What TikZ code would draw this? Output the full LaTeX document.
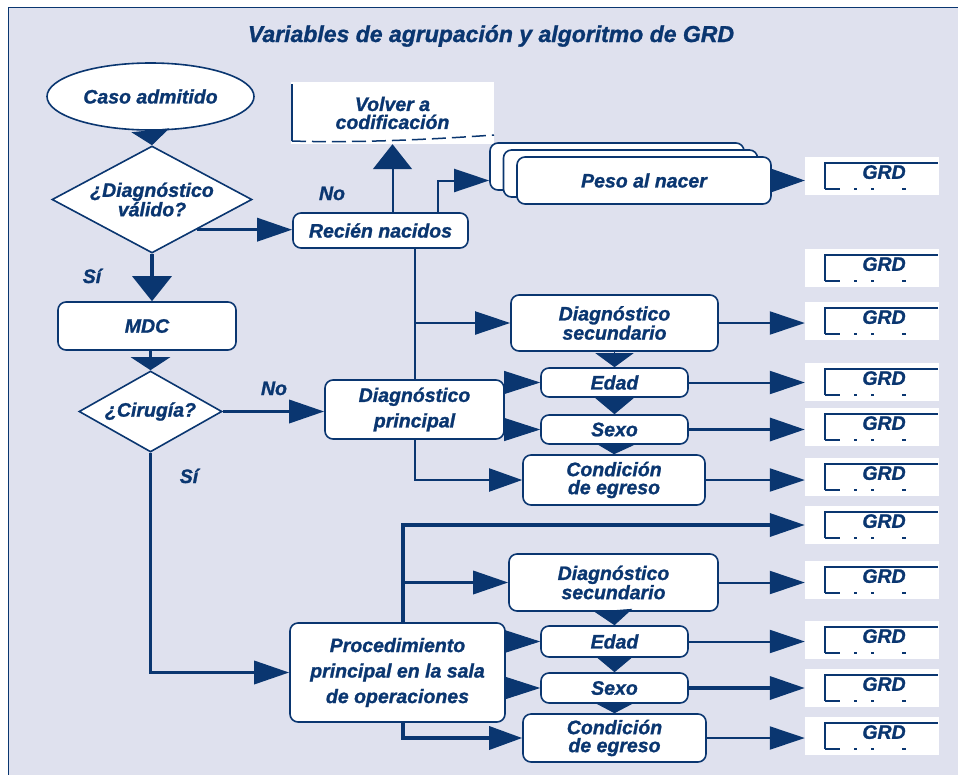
\documentclass[tikz,border=0pt]{standalone}
\usepackage{fontspec}
\setmainfont{Liberation Sans}[BoldItalicFeatures={FakeBold=1.2}]
\usetikzlibrary{shapes.geometric,shadows,arrows.meta}

\definecolor{grdblue}{RGB}{10,54,112}
\definecolor{panelbg}{RGB}{223,225,238}

\newcommand\boxfont{\fontsize{19.5}{18}\selectfont\bfseries\itshape}
\newcommand\widefont{\fontsize{19.5}{25.5}\selectfont\bfseries\itshape}
\newcommand\titlefont{\fontsize{23}{27}\selectfont\bfseries\itshape}

\tikzset{
  flowbox/.style={draw=grdblue, fill=white, line width=1.6pt, rounded corners=8pt,
    align=center, text=grdblue, font=\boxfont},
  terminal/.style={ellipse, draw=grdblue, fill=white, line width=1.6pt, inner sep=0pt,
    text=grdblue, font=\boxfont},
  decision/.style={diamond, aspect=1.8, draw=grdblue, fill=white, line width=1.6pt,
    inner sep=0pt, align=center, text=grdblue, font=\boxfont},
  stackbox/.style={double copy shadow={shadow xshift=-13.5pt, shadow yshift=7pt,
    draw=grdblue, fill=white, line width=1.6pt}},
  grdbox/.style={fill=white, minimum width=134pt, minimum height=38pt, inner sep=0pt,
    text depth=8pt, text=grdblue, font=\boxfont,
    path picture={
      \draw[grdblue, line width=1.5pt]
      ([shift={(20pt,6pt)}]path picture bounding box.south west)
      |- ([shift={(-1pt,-6pt)}]path picture bounding box.north east);
      \draw[grdblue, line width=1.5pt,
        dash pattern=on 15pt off 14pt on 3pt off 14pt on 3pt off 28pt on 4pt off 30pt]
      ([shift={(20pt,6pt)}]path picture bounding box.south west)
      -- ([shift={(-8pt,6pt)}]path picture bounding box.south east);
    }},
  returnbox/.style={fill=white, minimum width=203pt, minimum height=62pt, inner sep=0pt,
    align=center, text=grdblue, font=\boxfont,
    path picture={
      \draw[grdblue, line width=1.5pt]
      ([shift={(1pt,-2pt)}]path picture bounding box.north west)
      -- ([shift={(1pt,3pt)}]path picture bounding box.south west);
      \draw[grdblue, line width=1.5pt, dash pattern=on 14pt off 6pt]
      ([shift={(1pt,3pt)}]path picture bounding box.south west)
      .. controls ([shift={(60pt,1pt)}]path picture bounding box.south west)
      and ([shift={(-70pt,4pt)}]path picture bounding box.south east)
      .. ([yshift=9pt]path picture bounding box.south east);
    }},
  lbl/.style={text=grdblue, font=\boxfont, anchor=base},
  thinline/.style={draw=grdblue, line width=2pt},
  thickline/.style={draw=grdblue, line width=3.5pt},
  htip/.style={-{Triangle[length=#1,width=23pt]}, draw=grdblue},
  htip/.default=35pt,
  vtip/.style={-{Triangle[length=#1,width=39pt]}, draw=grdblue},
  dtip/.style={-{Triangle[length=#1,width=38pt]}, draw=grdblue, line width=1pt}
}

\begin{document}
\begin{tikzpicture}[x=1pt, y=-1pt]
  \useasboundingbox (0,0) rectangle (958,774);
  \clip (0,0) rectangle (958,774);

  \draw
  [draw=grdblue, line width=1.5pt, fill=panelbg]
  (8.5,7.5) rectangle (990,800);

  \node
  [lbl, font=\titlefont]
  (title) at (491,42) {Variables de agrupación y algoritmo de GRD};

  \node
  [terminal, minimum width=207pt, minimum height=67pt]
  (ca) at (150.5,96.5) {Caso admitido};

  \node
  [decision, minimum width=200pt, minimum height=107pt]
  (vd) at (152,199.5) {¿Diagnóstico\\válido?};

  \node
  [flowbox, minimum width=178pt, minimum height=48pt]
  (mdc) at (147,326) {MDC};

  \node
  [decision, minimum width=143pt, minimum height=81pt]
  (ci) at (150.5,411.5) {¿Cirugía?};

  \node
  [flowbox, minimum width=175pt, minimum height=35pt]
  (rn) at (380.5,230.5) {Recién nacidos};

  \node
  [returnbox]
  (vc) at (392.5,113) {Volver a\\codificación};

  \node
  [flowbox, stackbox, minimum width=254pt, minimum height=47pt]
  (pn) at (644,180.5) {Peso al nacer};

  \node
  [flowbox, font=\widefont, minimum width=179pt, minimum height=59pt]
  (dp) at (414.5,409.5) {Diagnóstico\\principal};

  \node
  [flowbox, font=\widefont, minimum width=215pt, minimum height=99pt]
  (pr) at (397.5,672.5) {Procedimiento\\principal en la sala\\de operaciones};

  \node
  [flowbox, minimum width=207pt, minimum height=56pt]
  (ds1) at (614.5,323) {Diagnóstico\\secundario};

  \node
  [flowbox, minimum width=147pt, minimum height=29pt]
  (ed1) at (614.5,382.5) {Edad};

  \node
  [flowbox, minimum width=147pt, minimum height=29pt]
  (sx1) at (614.5,429.5) {Sexo};

  \node
  [flowbox, minimum width=182pt, minimum height=50pt]
  (cd1) at (614,480) {Condición\\de egreso};

  \node
  [flowbox, minimum width=209pt, minimum height=57pt]
  (ds2) at (613.5,582.5) {Diagnóstico\\secundario};

  \node
  [flowbox, minimum width=147pt, minimum height=31pt]
  (ed2) at (614.5,641.5) {Edad};

  \node
  [flowbox, minimum width=147pt, minimum height=30pt]
  (sx2) at (614.5,688) {Sexo};

  \node
  [flowbox, minimum width=183pt, minimum height=48pt]
  (cd2) at (614.5,738) {Condición\\de egreso};

  \node [grdbox] (g1) at (872,176) {\hspace*{24pt}GRD};
  \node [grdbox] (g2) at (872,268) {\hspace*{24pt}GRD};
  \node [grdbox] (g3) at (872,321) {\hspace*{24pt}GRD};
  \node [grdbox] (g4) at (872,382) {\hspace*{24pt}GRD};
  \node [grdbox] (g5) at (872,427) {\hspace*{24pt}GRD};
  \node [grdbox] (g6) at (872,477) {\hspace*{24pt}GRD};
  \node [grdbox] (g7) at (872,525) {\hspace*{24pt}GRD};
  \node [grdbox] (g8) at (872,580) {\hspace*{24pt}GRD};
  \node [grdbox] (g9) at (872,640) {\hspace*{24pt}GRD};
  \node [grdbox] (g10) at (872,688) {\hspace*{24pt}GRD};
  \node [grdbox] (g11) at (872,736) {\hspace*{24pt}GRD};

  \node [lbl] (no1) at (332,200) {No};
  \node [lbl] (si1) at (92,283) {Sí};
  \node [lbl] (no2) at (274,395) {No};
  \node [lbl] (si2) at (189,483) {Sí};

  \coordinate (rnout) at ([xshift=57pt]rn.north);
  \coordinate (pnin) at ([xshift=-27pt]pn.west);
  \coordinate (ubus) at (dp.north);
  \coordinate (lbus) at ([xshift=5.5pt]pr.north);
  \coordinate (lbusb) at ([xshift=5.5pt]pr.south);

  \draw
  [dtip=15pt]
  (ca.south) -- (vd.north);

  \draw
  [thickline, vtip=25pt]
  (vd.south) -- (vd.south |- mdc.north);

  \draw
  [thickline, vtip=13pt]
  (mdc.south -| ci.north) -- (ci.north);

  \draw
  [thickline, htip]
  (vd.326) -- (vd.326 -| rn.west);

  \draw
  [thinline, vtip=25pt]
  (vc.south |- rn.north) -- (vc.south);

  \draw
  [thinline, htip]
  (rnout) |- (pnin);

  \draw
  [htip=33pt, line width=1pt]
  (pn.east) -- (pn.east -| g1.west);

  \draw
  [thinline]
  (ubus |- rn.south) -- (ubus);

  \draw
  [thinline, htip]
  (ubus |- ds1.west) -- (ds1.west);

  \draw
  [thickline, htip]
  (ci.east) -- (ci.east -| dp.west);

  \draw
  [htip=36pt, line width=1pt]
  (dp.east |- ed1.west) -- (ed1.west);

  \draw
  [htip=36pt, line width=1pt]
  (dp.east |- sx1.west) -- (sx1.west);

  \draw
  [thinline, htip=33pt]
  (dp.south) |- (cd1.west);

  \draw [dtip=14pt] (ds1.south) -- (ed1.north);
  \draw [dtip=16pt] (ed1.south) -- (sx1.north);
  \draw [dtip=10pt] (sx1.south) -- (cd1.north);

  \draw
  [thinline, htip]
  (ds1.east) -- (ds1.east -| g3.west);

  \draw
  [thinline, htip]
  (ed1.east) -- (ed1.east -| g4.west);

  \draw
  [thickline, htip]
  (sx1.east) -- (sx1.east -| g5.west);

  \draw
  [thinline, htip]
  (cd1.east) -- (cd1.east -| g6.west);

  \draw
  [thickline, htip]
  (ci.south) |- (pr.west);

  \draw
  [thickline, htip]
  (lbus) |- (g7.west);

  \draw
  [thickline, htip]
  (lbus |- ds2.west) -- (ds2.west);

  \draw
  [htip=36pt, line width=1pt]
  (pr.east |- ed2.west) -- (ed2.west);

  \draw
  [htip=36pt, line width=1pt]
  (pr.east |- sx2.west) -- (sx2.west);

  \draw
  [thickline, htip=33pt]
  (lbusb) |- (cd2.west);

  \draw [dtip=15pt] (ds2.south) -- (ed2.north);
  \draw [dtip=16pt] (ed2.south) -- (sx2.north);
  \draw [dtip=10pt] (sx2.south) -- (cd2.north);

  \draw
  [thinline, htip]
  (ds2.east) -- (ds2.east -| g8.west);

  \draw
  [thinline, htip]
  (ed2.east) -- (ed2.east -| g9.west);

  \draw
  [thickline, htip]
  (sx2.east) -- (sx2.east -| g10.west);

  \draw
  [thinline, htip]
  (cd2.east) -- (cd2.east -| g11.west);
\end{tikzpicture}
\end{document}
